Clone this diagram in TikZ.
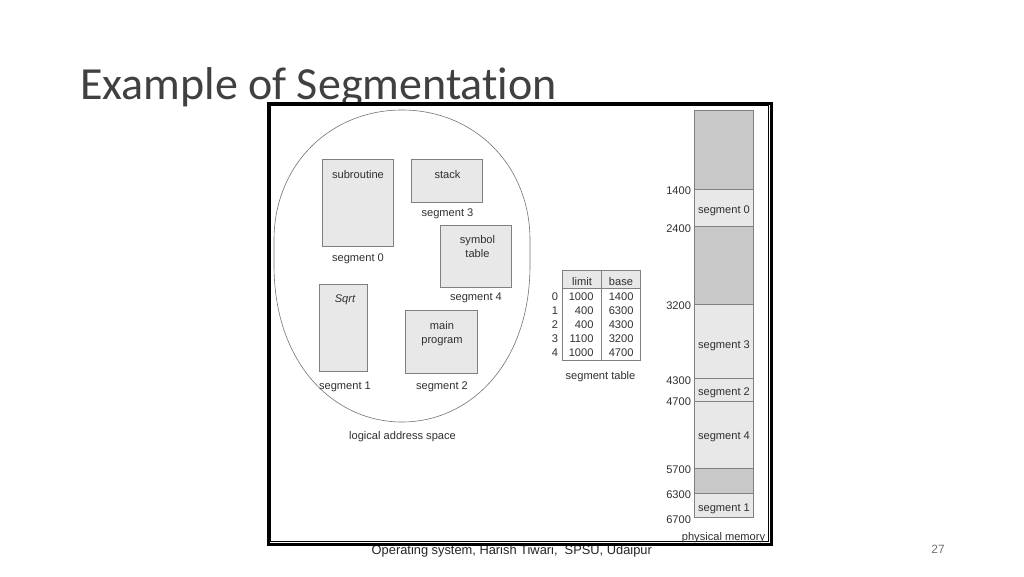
\documentclass[tikz,border=0pt]{standalone}
\usepackage{fontspec}
\setmainfont{Liberation Sans}
\newfontfamily\titlefont[Ligatures=NoCommon]{Carlito}
\tikzset{
  every node/.style={outer sep=0pt},
  segbox/.style={draw=boxline,fill=segfill,line width=0.8pt,inner sep=0pt,anchor=north west},
  free/.style={draw=boxline,fill=freefill,line width=0.8pt,inner sep=0pt,anchor=north west},
  lbl/.style={text=labelc,font=\fontsize{11.1}{13}\selectfont,inner sep=0pt,anchor=base},
  rlbl/.style={lbl,anchor=base east},
}
\definecolor{boxline}{HTML}{808080}
\definecolor{segfill}{HTML}{E8E8E8}
\definecolor{freefill}{HTML}{C9C8C9}
\definecolor{labelc}{HTML}{303030}
\begin{document}
\begin{tikzpicture}[x=1pt,y=-1pt]
\useasboundingbox (0,0) rectangle (1024,576);
\fill[white] (0,0) rectangle (1024,576);
% slide furniture
\node[font=\titlefont\fontsize{46}{50}\selectfont,text=black!75,inner sep=0pt,anchor=base west] (title) at (80,99.5) {Example of Segmentation};
\node[font=\fontsize{12.85}{15}\selectfont,text=black!85,inner sep=0pt,anchor=base] (footer) at (511.8,554.3) {Operating system, Harish Tiwari,\ \ SPSU, Udaipur};
\node[font=\fontsize{12}{14}\selectfont,text=black!55,inner sep=0pt,anchor=base] (page) at (938,553.5) {27};
% frame
\node[draw=black,fill=white,line width=3pt,inner sep=0pt,anchor=north west,minimum width=503pt,minimum height=441.8pt] (frame) at (268.3,103) {};
\node[draw=black,line width=1pt,inner sep=0pt,anchor=north west,minimum width=497.3pt,minimum height=436pt] (inner) at (270.7,105.5) {};
% logical address space outline
\draw[draw=black!55,line width=0.6pt] (402,110)
  .. controls (330,110) and (274,165) .. (274,240)
  -- (274,265)
  .. controls (274,365) and (335,422) .. (402,422)
  .. controls (469,422) and (530,365) .. (530,265)
  -- (530,240)
  .. controls (530,165) and (474,110) .. (402,110) -- cycle;
% segments
\node[segbox,minimum width=71pt,minimum height=87pt] (sub) at (322.3,159.3) {};
\node[segbox,minimum width=71.4pt,minimum height=43pt] (stack) at (411.3,159.3) {};
\node[segbox,minimum width=71.4pt,minimum height=62pt] (sym) at (440.3,225.3) {};
\node[segbox,minimum width=48.4pt,minimum height=87pt] (sqrt) at (319.3,284.3) {};
\node[segbox,minimum width=71.3pt,minimum height=63pt] (main) at (405.7,310) {};
\node[lbl] (t1) at (358,178) {subroutine};
\node[lbl] (t2) at (447.5,178) {stack};
\node[lbl] (t3) at (447.5,216) {segment 3};
\node[lbl] (t4) at (358,261) {segment 0};
\node[lbl] (t5) at (477.5,243.5) {symbol};
\node[lbl] (t6) at (477.5,257.5) {table};
\node[lbl] (t7) at (476,300) {segment 4};
\node[lbl,font=\fontsize{11.1}{13}\selectfont\itshape] (t8) at (345,302.5) {Sqrt};
\node[lbl] (t9) at (442,329) {main};
\node[lbl] (t10) at (442,343) {program};
\node[lbl] (t11) at (345,389) {segment 1};
\node[lbl] (t12) at (442,389) {segment 2};
\node[lbl] (t13) at (402.5,439) {logical address space};
% segment table
\node[segbox,minimum width=78.4pt,minimum height=18pt] (thead) at (562.3,270.3) {};
\node[draw=boxline,line width=0.8pt,inner sep=0pt,anchor=north west,minimum width=78.4pt,minimum height=72.4pt] (tbody) at (562.3,288.3) {};
\draw[boxline,line width=0.8pt] (thead.north west) ++(39.4,0) -- ++(0,90.4);
\node[lbl] (h1) at (582,285) {limit};
\node[lbl] (h2) at (621,285) {base};
\node[lbl] (r0) at (555,300) {0};
\node[lbl] (r1) at (555,314) {1};
\node[lbl] (r2) at (555,328) {2};
\node[lbl] (r3) at (555,342.5) {3};
\node[lbl] (r4) at (555,356.5) {4};
\node[rlbl] (l0) at (593.5,300) {1000};
\node[rlbl] (l1) at (593.5,314) {400};
\node[rlbl] (l2) at (593.5,328) {400};
\node[rlbl] (l3) at (593.5,342.5) {1100};
\node[rlbl] (l4) at (593.5,356.5) {1000};
\node[rlbl] (b0) at (633.5,300) {1400};
\node[rlbl] (b1) at (633.5,314) {6300};
\node[rlbl] (b2) at (633.5,328) {4300};
\node[rlbl] (b3) at (633.5,342.5) {3200};
\node[rlbl] (b4) at (633.5,356.5) {4700};
\node[lbl] (tcap) at (600.5,379) {segment table};
% physical memory
\node[free,minimum width=59pt,minimum height=79.3pt] (m0) at (694.3,110) {};
\node[segbox,minimum width=59pt,minimum height=37pt] (m1) at (694.3,189.3) {};
\node[free,minimum width=59pt,minimum height=77.7pt] (m2) at (694.3,226.3) {};
\node[segbox,minimum width=59pt,minimum height=74.3pt] (m3) at (694.3,304) {};
\node[segbox,minimum width=59pt,minimum height=23pt] (m4) at (694.3,378.3) {};
\node[segbox,minimum width=59pt,minimum height=66.7pt] (m5) at (694.3,401.3) {};
\node[free,minimum width=59pt,minimum height=25.3pt] (m6) at (694.3,468) {};
\node[segbox,minimum width=59pt,minimum height=24.4pt] (m7) at (694.3,493.3) {};
\node[lbl] (s0) at (724,213) {segment 0};
\node[lbl] (s3) at (724,348) {segment 3};
\node[lbl] (s2) at (724,395) {segment 2};
\node[lbl] (s4) at (724,439.5) {segment 4};
\node[lbl] (s1) at (724,511) {segment 1};
\node[rlbl] (a0) at (691,194) {1400};
\node[rlbl] (a1) at (691,232) {2400};
\node[rlbl] (a2) at (691,309) {3200};
\node[rlbl] (a3) at (691,384) {4300};
\node[rlbl] (a4) at (691,405) {4700};
\node[rlbl] (a5) at (691,473) {5700};
\node[rlbl] (a6) at (691,498) {6300};
\node[rlbl] (a7) at (691,523) {6700};
\node[lbl] (pm) at (723.5,540) {physical memory};
\end{tikzpicture}
\end{document}
